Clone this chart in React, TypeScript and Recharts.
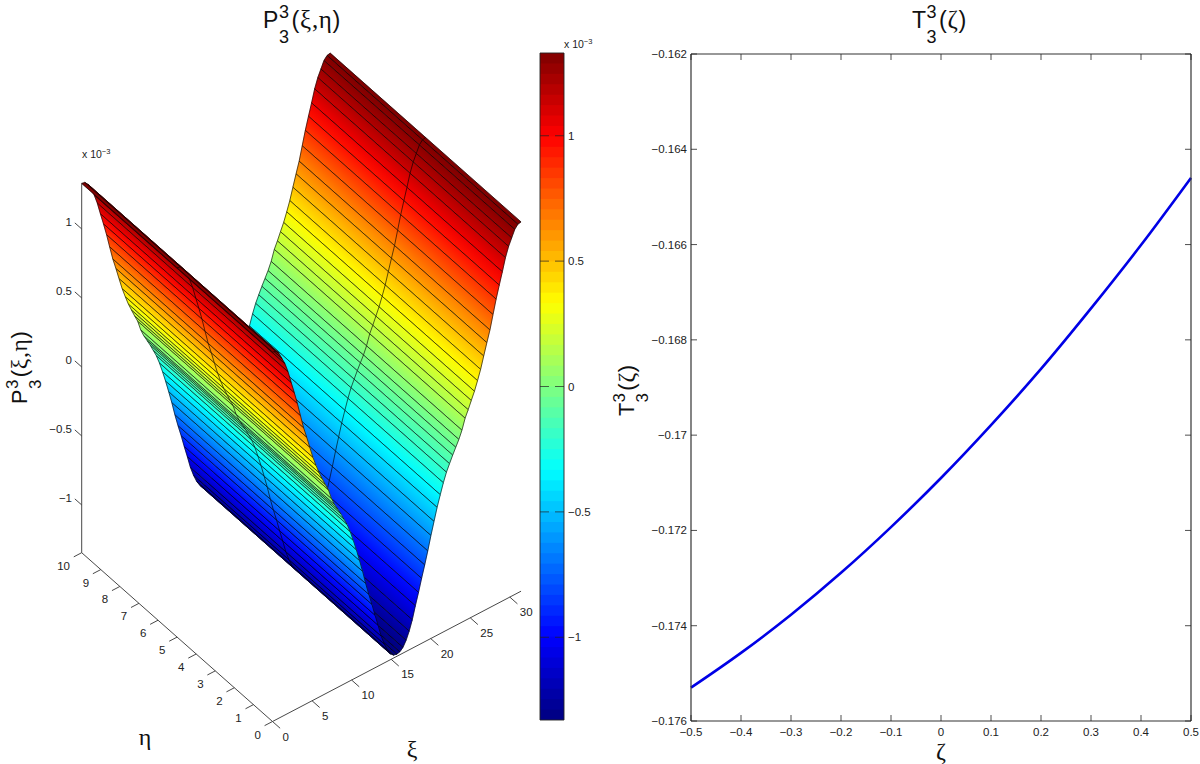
import {
  ComposedChart,
  LineChart,
  Line,
  ReferenceArea,
  Scatter,
  ScatterChart,
  XAxis,
  YAxis,
} from 'recharts';

// surface mesh: xi position of every mesh line, and the profile P(xi) in units of 1e-3
const xiMesh = [
  0, 0.39, 0.79, 1.18, 1.57, 1.96, 2.36, 2.75, 3.14, 3.53, 3.93, 4.32, 4.71, 5.11, 5.5, 5.89, 6.28, 6.68, 7.07, 7.46,
  7.85, 8.25, 8.64, 9.03, 9.42, 9.82, 10.21, 10.6, 11.0, 11.39, 11.78, 12.17, 12.57, 12.96, 13.35, 13.74, 14.14, 14.53,
  14.92, 15.32, 15.71, 16.1, 16.49, 16.89, 17.28, 17.67, 18.06, 18.46, 18.85, 19.24, 19.63, 20.03, 20.42, 20.81, 21.21,
  21.6, 21.99, 22.38, 22.78, 23.17, 23.56, 23.95, 24.35, 24.74, 25.13, 25.53, 25.92, 26.31, 26.7, 27.1, 27.49, 27.88,
  28.27, 28.67, 29.06, 29.45, 29.85, 30.24, 30.63, 31.02, 31.42,
];
const zMesh = [
  1.33, 1.325, 1.3, 1.25, 1.2, 1.13, 1.04, 0.955, 0.865, 0.765, 0.665, 0.585, 0.5, 0.415, 0.345, 0.28, 0.225, 0.17,
  0.12, 0.045, -0.01, -0.055, -0.1, -0.15, -0.2, -0.265, -0.34, -0.42, -0.51, -0.6, -0.7, -0.79, -0.875, -0.965, -1.05,
  -1.14, -1.21, -1.265, -1.305, -1.325, -1.33, -1.325, -1.305, -1.265, -1.21, -1.14, -1.05, -0.965, -0.875, -0.79,
  -0.7, -0.6, -0.51, -0.42, -0.34, -0.265, -0.2, -0.15, -0.1, -0.055, -0.01, 0.045, 0.12, 0.17, 0.225, 0.28, 0.345,
  0.415, 0.5, 0.585, 0.665, 0.765, 0.865, 0.955, 1.04, 1.13, 1.2, 1.25, 1.3, 1.325, 1.33,
];
const etaTicks = [0, 1, 2, 3, 4, 5, 6, 7, 8, 9, 10];
const xiTicks = [0, 5, 10, 15, 20, 25, 30];
const zTicks = [-1, -0.5, 0, 0.5, 1];
const zTickLabels = ['−1', '−0.5', '0', '0.5', '1'];

const colorbarTicks = [-1, -0.5, 0, 0.5, 1];
const colorbarLabels = ['−1', '−0.5', '0', '0.5', '1'];
const colorLevels = 64;

// right panel
const zetaValues = [-0.5, -0.4, -0.3, -0.2, -0.1, 0, 0.1, 0.2, 0.3, 0.4, 0.5];
const tValues = [-0.1753, -0.17457, -0.17377, -0.17289, -0.17193, -0.1709, -0.16979, -0.16861, -0.16734, -0.16601, -0.1646];
const zetaTicks = [-0.5, -0.4, -0.3, -0.2, -0.1, 0, 0.1, 0.2, 0.3, 0.4, 0.5];
const zetaLabels = ['−0.5', '−0.4', '−0.3', '−0.2', '−0.1', '0', '0.1', '0.2', '0.3', '0.4', '0.5'];
const tTicks = [-0.176, -0.174, -0.172, -0.17, -0.168, -0.166, -0.164, -0.162];
const tLabels = ['−0.176', '−0.174', '−0.172', '−0.17', '−0.168', '−0.166', '−0.164', '−0.162'];
const lineRows = zetaValues.map((zeta, i) => ({ zeta, t: tValues[i] }));

const SANS = '"Liberation Sans", Arial, sans-serif';
const SERIF = '"Liberation Serif", serif';
const INK = '#222';
const Z_FLOOR = -1.346;
const Z_COLOR = 1.33;

// matlab style view of the box, result is in pixels of the left chart
function project(xi: number, eta: number, z: number) {
  return {
    px: 272.5 + 7.91 * xi - 19.08 * eta,
    py: 721.5 - 4.147 * xi - 16.88 * eta - 138 * (z - Z_FLOOR),
  };
}

function jet(t: number) {
  const c = (v: number) => Math.round(255 * Math.max(0, Math.min(1, v)));
  return `rgb(${c(1.5 - Math.abs(4 * t - 3))},${c(1.5 - Math.abs(4 * t - 2))},${c(1.5 - Math.abs(4 * t - 1))})`;
}
const colorOf = (z: number) => jet((z + Z_COLOR) / (2 * Z_COLOR));

const Nothing = () => <g />;

function stripLine(i: number) {
  return (props: any) => {
    const [a, b, c, d, m1, m2] = props.points;
    const vx = b.x - a.x;
    const vy = b.y - a.y;
    const wx = d.x - a.x;
    const wy = d.y - a.y;
    const k = (wx * vx + wy * vy) / (vx * vx + vy * vy);
    const id = `strip-${i}`;
    const mesh = { stroke: '#000', strokeWidth: 0.7, strokeOpacity: 0.9 };
    return (
      <g>
        <linearGradient
          id={id}
          gradientUnits="userSpaceOnUse"
          x1={a.x}
          y1={a.y}
          x2={a.x + wx - k * vx + 0.001}
          y2={a.y + wy - k * vy + 0.001}
        >
          <stop offset="0" stopColor={colorOf(zMesh[i])} />
          <stop offset="1" stopColor={colorOf(zMesh[i + 1])} />
        </linearGradient>
        <polygon
          points={[a, b, c, d].map((p: any) => `${p.x},${p.y}`).join(' ')}
          fill={`url(#${id})`}
          stroke={colorOf((zMesh[i] + zMesh[i + 1]) / 2)}
          strokeWidth={0.4}
        />
        <line x1={d.x} y1={d.y} x2={c.x} y2={c.y} {...mesh} />
        <line x1={a.x} y1={a.y} x2={b.x} y2={b.y} {...mesh} />
        <line x1={m1.x} y1={m1.y} x2={m2.x} y2={m2.y} {...mesh} />
        <line x1={a.x} y1={a.y} x2={d.x} y2={d.y} {...mesh} />
        <line x1={b.x} y1={b.y} x2={c.x} y2={c.y} {...mesh} />
      </g>
    );
  };
}

const stripIndexes = xiMesh.slice(0, -1).map((_, i) => i).reverse();

function stripData(i: number) {
  const z0 = zMesh[i];
  const z1 = zMesh[i + 1];
  const xi0 = xiMesh[i];
  const xi1 = xiMesh[i + 1];
  return [
    project(xi0, 0, z0),
    project(xi0, 10, z0),
    project(xi1, 10, z1),
    project(xi1, 0, z1),
    project(xi0, 5, z0),
    project(xi1, 5, z1),
  ];
}

const axisSegments = [
  [project(0, 0, Z_FLOOR), project(0, 10, Z_FLOOR)],
  [project(0, 0, Z_FLOOR), project(31.42, 0, Z_FLOOR)],
  [project(0, 10, Z_FLOOR), project(0, 10, 1.33)],
  ...etaTicks.map((eta) => [project(0, eta, Z_FLOOR), project(-1, eta, Z_FLOOR)]),
  ...xiTicks.map((xi) => [project(xi, 0, Z_FLOOR), project(xi, -0.4, Z_FLOOR)]),
  ...zTicks.map((z) => [project(0, 10, z), project(0, 10.36, z)]),
];

const etaLabelRows = etaTicks.map((eta) => ({ ...project(0, eta, Z_FLOOR), label: String(eta) }));
const xiLabelRows = xiTicks.map((xi) => ({ ...project(xi, 0, Z_FLOOR), label: String(xi) }));
const zLabelRows = zTicks.map((z, i) => ({ ...project(0, 10, z), label: zTickLabels[i] }));

function tickText(dx: number, dy: number, anchor: 'start' | 'end') {
  return (props: any) => (
    <text
      x={props.cx + dx}
      y={props.cy + dy}
      textAnchor={anchor}
      dominantBaseline="central"
      fontFamily={SANS}
      fontSize={11.5}
      fill={INK}
    >
      {props.payload.label}
    </text>
  );
}

function SurfaceChart() {
  return (
    <ScatterChart width={540} height={764} margin={{ top: 0, right: 0, bottom: 0, left: 0 }}>
      <XAxis type="number" dataKey="px" domain={[0, 540]} hide />
      <YAxis type="number" dataKey="py" domain={[0, 764]} reversed hide />
      {axisSegments.map((seg, i) => (
        <Scatter
          key={`axis-${i}`}
          data={seg}
          shape={Nothing}
          line={{ stroke: '#333', strokeWidth: 0.9 }}
          isAnimationActive={false}
        />
      ))}
      {stripIndexes.map((i) => (
        <Scatter key={`strip-${i}`} data={stripData(i)} shape={Nothing} line={stripLine(i)} isAnimationActive={false} />
      ))}
      <Scatter data={etaLabelRows} shape={tickText(-11.7, 13, 'end')} isAnimationActive={false} />
      <Scatter data={xiLabelRows} shape={tickText(10, 15, 'start')} isAnimationActive={false} />
      <Scatter data={zLabelRows} shape={tickText(-9.7, -7, 'end')} isAnimationActive={false} />
    </ScatterChart>
  );
}

function colorbarTick(props: any) {
  const { x, y, index } = props;
  return (
    <g>
      <line x1={x} y1={y} x2={x - 9} y2={y} stroke={INK} strokeWidth={0.7} />
      <line x1={x - 24} y1={y} x2={x - 15} y2={y} stroke={INK} strokeWidth={0.7} />
      <text x={x + 4} y={y} dominantBaseline="central" fontFamily={SANS} fontSize={11.5} fill={INK}>
        {colorbarLabels[index]}
      </text>
    </g>
  );
}

function Colorbar() {
  const bands = Array.from({ length: colorLevels }, (_, i) => i);
  const step = (2 * Z_COLOR) / colorLevels;
  return (
    <ComposedChart
      width={100}
      height={700}
      data={[
        { x: 0, y: -Z_COLOR },
        { x: 1, y: Z_COLOR },
      ]}
      margin={{ top: 13, right: 0, bottom: 20, left: 10 }}
    >
      <XAxis type="number" dataKey="x" domain={[0, 1]} hide />
      <YAxis
        type="number"
        orientation="right"
        width={66}
        domain={[-Z_COLOR, Z_COLOR]}
        ticks={colorbarTicks}
        tick={colorbarTick}
        tickSize={0}
        tickMargin={0}
        tickLine={false}
        axisLine={false}
        interval={0}
      />
      {/* each band runs a little under the next one so no seams show */}
      {bands.map((i) => (
        <ReferenceArea
          key={i}
          x1={0}
          x2={1}
          y1={-Z_COLOR + i * step}
          y2={Math.min(Z_COLOR, -Z_COLOR + (i + 1.3) * step)}
          fill={jet((i + 0.5) / colorLevels)}
          fillOpacity={1}
          stroke="none"
          ifOverflow="visible"
        />
      ))}
      <ReferenceArea
        x1={0}
        x2={1}
        y1={-Z_COLOR}
        y2={Z_COLOR}
        fill="none"
        stroke={INK}
        strokeWidth={0.9}
        ifOverflow="visible"
      />
      <Line dataKey="y" stroke="none" dot={false} isAnimationActive={false} />
    </ComposedChart>
  );
}

function xTick(side: 'bottom' | 'top') {
  return (props: any) => {
    const { x, y, index } = props;
    const dir = side === 'bottom' ? -1 : 1;
    return (
      <g>
        <line x1={x} y1={y} x2={x} y2={y + dir * 6} stroke={INK} strokeWidth={0.8} />
        {side === 'bottom' && (
          <text x={x} y={y + 11} textAnchor="middle" dominantBaseline="central" fontFamily={SANS} fontSize={11.5} fill={INK}>
            {zetaLabels[index]}
          </text>
        )}
      </g>
    );
  };
}

function yTick(side: 'left' | 'right') {
  return (props: any) => {
    const { x, y, index } = props;
    const dir = side === 'left' ? 1 : -1;
    return (
      <g>
        <line x1={x} y1={y} x2={x + dir * 6} y2={y} stroke={INK} strokeWidth={0.8} />
        {side === 'left' && (
          <text x={x - 4} y={y} textAnchor="end" dominantBaseline="central" fontFamily={SANS} fontSize={11.5} fill={INK}>
            {tLabels[index]}
          </text>
        )}
      </g>
    );
  };
}

function TraceChart() {
  const frame = { stroke: '#333', strokeWidth: 1.2 };
  return (
    <LineChart width={560} height={724} data={lineRows} margin={{ top: 13, right: 8, bottom: 13, left: 0 }}>
      <XAxis
        xAxisId="bottom"
        type="number"
        dataKey="zeta"
        orientation="bottom"
        domain={[-0.5, 0.5]}
        ticks={zetaTicks}
        tick={xTick('bottom')}
        tickSize={0}
        tickMargin={0}
        tickLine={false}
        axisLine={frame}
        interval={0}
        height={30}
      />
      <XAxis
        xAxisId="top"
        type="number"
        dataKey="zeta"
        orientation="top"
        domain={[-0.5, 0.5]}
        ticks={zetaTicks}
        tick={xTick('top')}
        tickSize={0}
        tickMargin={0}
        tickLine={false}
        axisLine={frame}
        interval={0}
        height={1}
      />
      <YAxis
        yAxisId="left"
        type="number"
        orientation="left"
        domain={[-0.176, -0.162]}
        ticks={tTicks}
        tick={yTick('left')}
        tickSize={0}
        tickMargin={0}
        tickLine={false}
        axisLine={frame}
        interval={0}
        width={51}
      />
      <YAxis
        yAxisId="right"
        type="number"
        orientation="right"
        domain={[-0.176, -0.162]}
        ticks={tTicks}
        tick={yTick('right')}
        tickSize={0}
        tickMargin={0}
        tickLine={false}
        axisLine={frame}
        interval={0}
        width={1}
      />
      {/* keeps the top and right frame axes alive */}
      <Line xAxisId="top" yAxisId="right" dataKey="t" stroke="none" dot={false} isAnimationActive={false} />
      <Line
        xAxisId="bottom"
        yAxisId="left"
        type="monotone"
        dataKey="t"
        stroke="#0000e6"
        strokeWidth={2.6}
        dot={false}
        isAnimationActive={false}
      />
    </LineChart>
  );
}

// P/T with the stacked 3 and 3 and the greek arguments
function MathLabel({ x, y, scale = 1, rotate = 0, base, args }: any) {
  const baseWidth = base === 'P' ? 16 : 14.5;
  return (
    <g transform={`translate(${x},${y}) rotate(${rotate}) scale(${scale})`} fill="#111" fontFamily={SANS}>
      <text fontSize={23}>{base}</text>
      <text x={baseWidth} y={-10} fontSize={18}>3</text>
      <text x={baseWidth} y={14.7} fontSize={18}>3</text>
      <text x={baseWidth + 12.5} fontSize={23.5} letterSpacing={0.7}>
        (<tspan fontFamily={SERIF} fontSize={25}>{args}</tspan>)
      </text>
    </g>
  );
}

function Scaled10({ x, y }: { x: number; y: number }) {
  return (
    <text x={x} y={y} fontFamily={SANS} fontSize={10.5} fill={INK}>
      x 10
      <tspan dy={-4} fontSize={7.5}>−3</tspan>
    </text>
  );
}

function Annotations() {
  return (
    <svg width={1200} height={764} style={{ position: 'absolute', left: 0, top: 0, pointerEvents: 'none' }}>
      <MathLabel x={263} y={28} base="P" args="ξ,η" />
      <MathLabel x={27} y={404} rotate={-90} scale={0.94} base="P" args="ξ,η" />
      <MathLabel x={912} y={28} base="T" args="ζ" />
      <MathLabel x={634} y={416} rotate={-90} scale={0.94} base="T" args="ζ" />
      <Scaled10 x={82} y={158} />
      <Scaled10 x={564} y={48} />
      <text x={145} y={745} fontFamily={SERIF} fontSize={24} textAnchor="middle" fill="#111">η</text>
      <text x={412} y={757} fontFamily={SERIF} fontSize={24} textAnchor="middle" fill="#111">ξ</text>
      <text x={941} y={759} fontFamily={SERIF} fontSize={24} textAnchor="middle" fill="#111">ζ</text>
    </svg>
  );
}

export default function App() {
  return (
    <div style={{ position: 'absolute', left: 0, top: 0, width: 1200, height: 764, background: '#fff', overflow: 'hidden' }}>
      <div style={{ position: 'absolute', left: 0, top: 0 }}>
        <SurfaceChart />
      </div>
      <div style={{ position: 'absolute', left: 530, top: 40 }}>
        <Colorbar />
      </div>
      <div style={{ position: 'absolute', left: 640, top: 40 }}>
        <TraceChart />
      </div>
      <Annotations />
    </div>
  );
}
